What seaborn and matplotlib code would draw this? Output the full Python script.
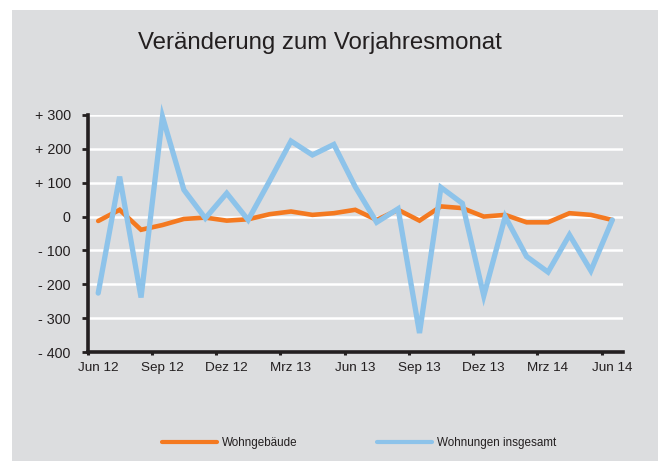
import numpy as np
import pandas as pd
import matplotlib
matplotlib.use("Agg")
import matplotlib.pyplot as plt
from matplotlib.patches import Rectangle
import seaborn as sns

sns.set_style("white")
plt.rcParams['font.family'] = ['Liberation Sans', 'DejaVu Sans']

# ====================== data ======================
months = ["Jun 12", "Jul 12", "Aug 12", "Sep 12", "Okt 12", "Nov 12", "Dez 12",
          "Jan 13", "Feb 13", "Mrz 13", "Apr 13", "Mai 13", "Jun 13",
          "Jul 13", "Aug 13", "Sep 13", "Okt 13", "Nov 13", "Dez 13",
          "Jan 14", "Feb 14", "Mrz 14", "Apr 14", "Mai 14", "Jun 14"]
wohngebaeude = [-13, 20, -39, -25, -7, -3, -12, -8, 7, 15, 5, 10, 20,
                -10, 20, -12, 30, 25, 0, 5, -17, -17, 10, 5, -10]
wohnungen = [-226, 118, -239, 295, 79, -5, 69, -10, 105, 223, 182, 213, 88,
             -17, 23, -344, 86, 39, -234, 0, -118, -164, -54, -160, -10]
series_names = ["Wohngebäude", "Wohnungen insgesamt"]
y_ticks = [300, 200, 100, 0, -100, -200, -300, -400]
y_labels = ["+ 300", "+ 200", "+ 100", "0", "- 100", "- 200", "- 300", "- 400"]

df = pd.DataFrame({
    "pos": list(range(len(months))) * 2,
    "wert": wohngebaeude + wohnungen,
    "serie": [series_names[0]] * len(months) + [series_names[1]] * len(months),
})

gray = "#DCDDDF"
orange = "#F47920"
blue = "#8DC3EA"
txt = "#231F20"

# ====================== figure ======================
fig = plt.figure(figsize=(6.58, 4.61), dpi=100)
fig.patches.append(Rectangle((12 / 658, 0), 1 - 12 / 658, 1 - 10 / 461,
                             transform=fig.transFigure, facecolor=gray,
                             edgecolor="none", zorder=-10))
ax = fig.add_axes([87.5 / 658, 1 - 352 / 461, (623 - 87.5) / 658, (352 - 115) / 461])
ax.set_facecolor("none")

for y in y_ticks[:-1]:
    ax.axhline(y, color="white", lw=1.8, zorder=1)

sns.lineplot(data=df, x="pos", y="wert", hue="serie", hue_order=series_names,
             palette=[orange, blue], ax=ax, legend=False, zorder=3)
ax.lines[-2].set_linewidth(3.3)
ax.lines[-1].set_linewidth(3.8)
for ln in ax.lines[-2:]:
    ln.set_solid_joinstyle("miter")
    ln.set_clip_on(False)

ax.set_xlim(-0.5, 24.5)
ax.set_ylim(-400, 300)
ax.set_xlabel("")
ax.set_ylabel("")

# labels at category centres, tick marks at category boundaries
ax.set_xticks(range(0, 25, 3))
ax.set_xticklabels([months[i] for i in range(0, 25, 3)], fontsize=9.7, color=txt)
ax.set_xticks(np.arange(-0.5, 24, 3), minor=True)
ax.tick_params(axis="x", which="major", bottom=True, length=0, pad=7)
ax.tick_params(axis="x", which="minor", bottom=True, length=2, width=2.2,
               color=txt, direction="out")

ax.set_yticks(y_ticks)
ax.set_yticklabels(y_labels, fontsize=10.3, color=txt)
ax.tick_params(axis="y", left=True, length=4, width=2, color=txt,
               direction="out", pad=8)

for side in ["top", "right"]:
    ax.spines[side].set_visible(False)
for side in ["left", "bottom"]:
    ax.spines[side].set_linewidth(2.6)
    ax.spines[side].set_color(txt)
    ax.spines[side].set_zorder(4)

fig.text(320 / 658, 1 - 43 / 461, "Veränderung zum Vorjahresmonat",
         ha="center", va="center", fontsize=17.3, color=txt)

handles = [plt.Line2D([], [], color=orange, lw=3),
           plt.Line2D([], [], color=blue, lw=3)]
fig.legend(handles, series_names, loc="center left",
           bbox_to_anchor=(162 / 658, 1 - 443 / 461), ncol=2, frameon=False,
           fontsize=8.4, handlelength=4.7, handletextpad=0.45,
           columnspacing=6.8, borderpad=0, borderaxespad=0,
           labelcolor=txt)

fig.savefig("out.png", dpi=100)
